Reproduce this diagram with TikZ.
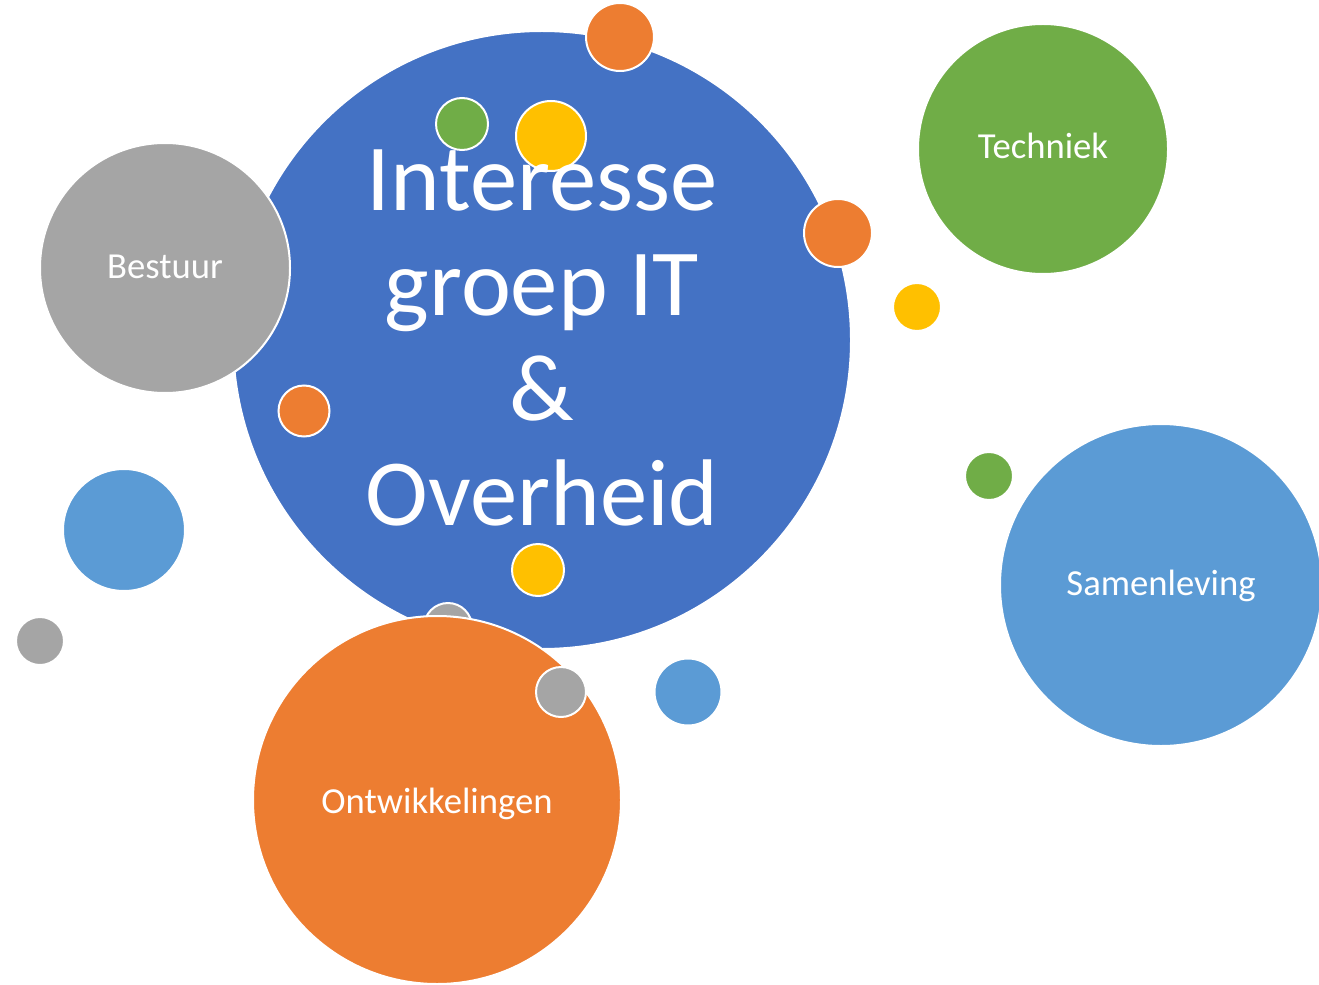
\documentclass[tikz,border=0pt]{standalone}
\usepackage{fontspec}
\setmainfont{Carlito}
\definecolor{hubBlue}{RGB}{68,114,196}
\definecolor{accGrey}{RGB}{165,165,165}
\definecolor{accGreen}{RGB}{112,173,71}
\definecolor{accBlue}{RGB}{91,155,213}
\definecolor{accOrange}{RGB}{237,125,49}
\definecolor{accYellow}{RGB}{255,192,0}
\tikzset{
  bubble/.style={circle,draw=white,line width=1.5pt,inner sep=0pt,minimum size=#1*1.5pt},
  bubbletext/.style={anchor=base,text=white,inner sep=0pt,font=\fontsize{27.5}{33}\selectfont},
  hubtext/.style={align=center,text=white,inner sep=0pt,font=\fontsize{71}{78.75}\selectfont}
}
\begin{document}
\begin{tikzpicture}[x=0.75pt,y=0.75pt,yscale=-1]
%set diagram left start at 0, and has height of 984
\useasboundingbox (0,0) rectangle (1319,984);
\fill[white] (0,0) rectangle (1319,984);

%Shape: Circle (hub)
\node[bubble=309,fill=hubBlue] (hub) at (542,340) {};
%Shape: Circle
\node[bubble=125,fill=accGrey] (bestuur) at (165,268) {};
%Shape: Circle
\node[bubble=125,fill=accGreen] (techniek) at (1043,149) {};
%Shape: Circle
\node[bubble=161,fill=accBlue] (samenleving) at (1161,585) {};
%Shape: Circle
\node[bubble=24,fill=accGrey] (dotGreyA) at (448,627) {};
%Shape: Circle
\node[bubble=184,fill=accOrange] (ontwikkelingen) at (437,800) {};

%Shape: Circle
\node[bubble=34,fill=accOrange] (dotOrangeA) at (620,37) {};
%Shape: Circle
\node[bubble=26,fill=accGreen] (dotGreenA) at (462,124) {};
%Shape: Circle
\node[bubble=35,fill=accYellow] (dotYellowA) at (551,136) {};
%Shape: Circle
\node[bubble=34,fill=accOrange] (dotOrangeB) at (838,233) {};
%Shape: Circle
\node[bubble=24,fill=accYellow] (dotYellowB) at (917,307) {};
%Shape: Circle
\node[bubble=25.5,fill=accOrange] (dotOrangeC) at (304,411) {};
%Shape: Circle
\node[bubble=24,fill=accGreen] (dotGreenB) at (989,476) {};
%Shape: Circle
\node[bubble=61,fill=accBlue] (dotBlueA) at (124,530) {};
%Shape: Circle
\node[bubble=26,fill=accYellow] (dotYellowC) at (538,570) {};
%Shape: Circle
\node[bubble=24,fill=accGrey] (dotGreyB) at (40,641) {};
%Shape: Circle
\node[bubble=25,fill=accGrey] (dotGreyC) at (561,692) {};
%Shape: Circle
\node[bubble=33.5,fill=accBlue] (dotBlueB) at (688,692) {};

% Text Node
\node[bubbletext] (lblBestuur) at ([yshift=8pt]bestuur.center) {Bestuur};
% Text Node
\node[bubbletext] (lblTechniek) at ([yshift=7pt]techniek.center) {Techniek};
% Text Node
\node[bubbletext] (lblSamenleving) at ([yshift=7.5pt]samenleving.center) {Samenleving};
% Text Node
\node[bubbletext] (lblOntwikkelingen) at ([yshift=10pt]ontwikkelingen.center) {Ontwikkelingen};
% Text Node
\node[hubtext] (title) at (542,337.5) {Interesse\\groep IT\\\&\\Overheid};

\end{tikzpicture}
\end{document}
